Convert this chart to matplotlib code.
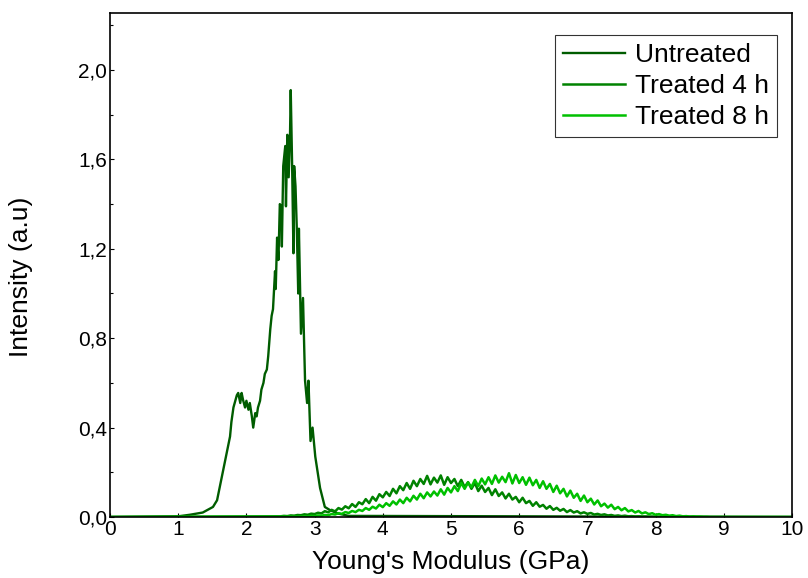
import matplotlib
matplotlib.use("Agg")
import matplotlib.pyplot as plt
from matplotlib.ticker import MultipleLocator, FuncFormatter
import numpy as np

plt.rcParams['font.family'] = ['Liberation Sans', 'DejaVu Sans']

# ---------------- data ----------------
untreated_x = [0.0, 1.0, 1.17, 1.36, 1.51, 1.57, 1.61, 1.66, 1.71, 1.76, 1.78, 1.81, 1.86, 1.88,
               1.91, 1.93, 1.95, 1.98, 2.00, 2.03, 2.05, 2.08, 2.10, 2.13, 2.15, 2.17, 2.20,
               2.22, 2.25, 2.27, 2.30, 2.32, 2.35, 2.37, 2.39, 2.42, 2.43, 2.45, 2.47, 2.49,
               2.51, 2.52, 2.54, 2.57, 2.58, 2.60, 2.62, 2.64, 2.65, 2.67, 2.69, 2.70, 2.72,
               2.74, 2.76, 2.77, 2.80, 2.83, 2.85, 2.86, 2.89, 2.91, 2.94, 2.97, 3.01, 3.08,
               3.15, 3.23, 3.35, 3.5, 10.0]
untreated_y = [0.0, 0.003, 0.01, 0.02, 0.045, 0.075, 0.135, 0.21, 0.285, 0.36, 0.425, 0.49, 0.545, 0.555,
               0.51, 0.555, 0.525, 0.49, 0.52, 0.48, 0.51, 0.45, 0.40, 0.465, 0.45, 0.49, 0.52,
               0.57, 0.60, 0.64, 0.66, 0.72, 0.84, 0.90, 0.93, 1.10, 1.02, 1.25, 1.15, 1.40,
               1.39, 1.21, 1.57, 1.66, 1.39, 1.71, 1.52, 1.72, 1.91, 1.58, 1.18, 1.57, 1.48,
               1.28, 1.00, 1.29, 0.82, 0.98, 0.73, 0.61, 0.51, 0.61, 0.34, 0.40, 0.27, 0.13,
               0.045, 0.03, 0.015, 0.005, 0.0]

t4_x0, t4_step = 2.5, 0.05
t4_vals = [0.003, 0.005, 0.004, 0.007, 0.006, 0.009, 0.008, 0.012, 0.010, 0.015,
           0.013, 0.019, 0.016, 0.026, 0.021, 0.032, 0.025, 0.040, 0.033, 0.048,
           0.039, 0.058, 0.045, 0.066, 0.057, 0.080, 0.062, 0.090, 0.073, 0.102,
           0.088, 0.112, 0.094, 0.126, 0.106, 0.138, 0.120, 0.152, 0.126, 0.162,
           0.138, 0.170, 0.148, 0.184, 0.146, 0.176, 0.154, 0.186, 0.144, 0.178,
           0.152, 0.170, 0.138, 0.166, 0.134, 0.156, 0.126, 0.152, 0.116, 0.140,
           0.112, 0.130, 0.098, 0.124, 0.094, 0.110, 0.083, 0.104, 0.078, 0.090,
           0.066, 0.086, 0.062, 0.072, 0.050, 0.066, 0.046, 0.054, 0.037, 0.049,
           0.032, 0.041, 0.028, 0.036, 0.022, 0.031, 0.020, 0.026, 0.016, 0.021,
           0.014, 0.018, 0.011, 0.014, 0.009, 0.012, 0.007, 0.009, 0.005, 0.007,
           0.004, 0.006, 0.003, 0.004, 0.002, 0.003, 0.002, 0.002, 0.001, 0.001,
           0.000]

t8_x0, t8_step = 2.8, 0.05
t8_vals = [0.002, 0.003, 0.003, 0.005, 0.004, 0.007, 0.006, 0.009, 0.008, 0.013,
           0.011, 0.017, 0.014, 0.022, 0.018, 0.027, 0.022, 0.032, 0.027, 0.040,
           0.032, 0.046, 0.038, 0.055, 0.044, 0.062, 0.050, 0.070, 0.056, 0.078,
           0.062, 0.086, 0.070, 0.095, 0.078, 0.104, 0.084, 0.110, 0.092, 0.114,
           0.096, 0.124, 0.100, 0.130, 0.110, 0.138, 0.116, 0.152, 0.126, 0.154,
           0.134, 0.166, 0.138, 0.172, 0.146, 0.178, 0.148, 0.186, 0.154, 0.180,
           0.156, 0.196, 0.150, 0.188, 0.152, 0.178, 0.144, 0.176, 0.142, 0.166,
           0.130, 0.160, 0.126, 0.148, 0.112, 0.140, 0.106, 0.126, 0.092, 0.118,
           0.086, 0.104, 0.072, 0.096, 0.066, 0.082, 0.056, 0.074, 0.048, 0.060,
           0.042, 0.055, 0.035, 0.045, 0.030, 0.040, 0.025, 0.031, 0.020, 0.027,
           0.016, 0.021, 0.013, 0.017, 0.010, 0.013, 0.008, 0.010, 0.006, 0.008,
           0.004, 0.006, 0.003, 0.004, 0.002, 0.003, 0.002, 0.002, 0.001, 0.001,
           0.000]

labels = ["Untreated", "Treated 4 h", "Treated 8 h"]
colors = ["#005c00", "#008200", "#00c000"]

# ---------------- build series ----------------
t4_x = [0.0] + [t4_x0 + i * t4_step for i in range(len(t4_vals))] + [10.0]
t4_y = [0.0] + t4_vals + [0.0]
t8_x = [0.0] + [t8_x0 + i * t8_step for i in range(len(t8_vals))] + [10.0]
t8_y = [0.0] + t8_vals + [0.0]

fig = plt.figure(figsize=(8.08, 5.78), dpi=100)
ax = fig.add_axes([110 / 808, 61 / 578, 682 / 808, 504 / 578])

ax.plot(untreated_x, untreated_y, color=colors[0], lw=1.7, label=labels[0])
ax.plot(t4_x, t4_y, color=colors[1], lw=1.8, label=labels[1])
ax.plot(t8_x, t8_y, color=colors[2], lw=1.8, label=labels[2])

ax.set_xlim(0, 10)
ax.set_ylim(0, 2.255)
ax.xaxis.set_major_locator(MultipleLocator(1))
ax.yaxis.set_major_locator(MultipleLocator(0.4))
ax.yaxis.set_minor_locator(MultipleLocator(0.2))
ax.yaxis.set_major_formatter(FuncFormatter(lambda v, p: f"{v:.1f}".replace(".", ",")))
ax.tick_params(axis='both', which='both', direction='in', length=3, width=0.8, labelsize=15, pad=2)
ax.tick_params(axis='y', which='minor', length=2)
for s in ax.spines.values():
    s.set_linewidth(1.2)

ax.set_xlabel("Young's Modulus (GPa)", fontsize=19, labelpad=8)
ax.set_ylabel("Intensity (a.u)", fontsize=19)
ax.yaxis.set_label_coords(-0.113, 0.476)

leg = ax.legend(loc='upper right', bbox_to_anchor=(0.978, 0.956), fontsize=19, frameon=True,
                fancybox=False, edgecolor='black', borderpad=0.3, handlelength=2.35,
                labelspacing=0.26, handletextpad=0.4, borderaxespad=0.0)
leg.get_frame().set_linewidth(0.8)

fig.savefig("out.png", dpi=100)
